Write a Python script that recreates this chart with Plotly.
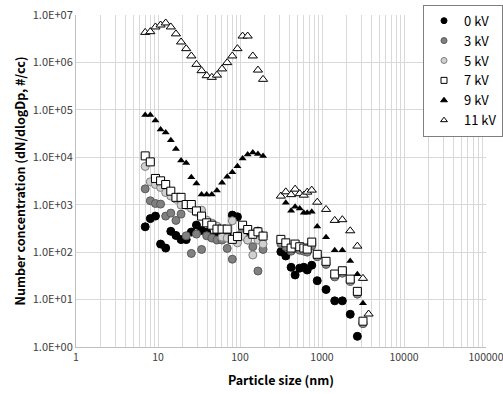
import plotly.graph_objects as go

# SMPS size channels (nm)
smps_x = [6.98, 8.06, 9.31, 10.75, 12.41, 14.33, 16.55, 19.11, 22.07, 25.49, 29.43, 33.99,
          39.25, 45.32, 52.34, 60.44, 69.80, 80.60, 93.08, 107.5, 124.1, 143.3, 165.5, 191.1]
# OPC size channels (nm)
opc_x = [315, 362, 420, 470, 535, 600, 660, 750, 875, 1120, 1430, 1770, 2210, 2700, 3160, 3700]

kv0_smps = [342, 509, 575, 148, 122, 275, 225, 184, 184, 265, 372, 287,
            265, 207, 218, 198, 240, 604, 556, 337, 240, 240, 278, 218]
kv3_smps = [2160, 1210, 1060, 1030, 575, 665, 467, 634, 221, 94, 240, 114,
            221, 198, 180, 180, 120, 71, 221, 278, 180, 130, 40, 114]
kv5_smps = [6400, 3040, 2670, 2310, 1800, 1520, 1310, 980, 975, 836, 698, 769,
            473, 410, 354, 207, 198, 458, 157, 218, 180, 87, 180, 148]
kv7_smps = [10700, 8000, 3580, 3190, 2670, 1930, 1430, 1430, 1010, 1010, 740, 575,
            415, 370, 306, 306, 306, 186, 213, 370, 300, 238, 268, 218]
kv9_smps = [78000, 78000, 59700, 38500, 33300, 23000, 15000, 8600, 7600, 3800, 2800, 1650,
            1650, 1650, 2000, 2900, 3870, 4860, 6500, 9400, 11500, 12600, 11800, 10700]
kv11_smps = [4.3e6, 4.45e6, 5.6e6, 6.15e6, 6.8e6, 5.6e6, 4.0e6, 2.7e6, 1.95e6, 1.37e6, 9.1e5, 6.7e5,
             5.25e5, 4.85e5, 5.4e5, 7.3e5, 9.9e5, 1.37e6, 1.95e6, 3.6e6, 3.6e6, 1.37e6, 6.9e5, 4.4e5]

kv0_opc = [102, 83, 48, 33, 46, 48, 42, 53, 25, 16.3, 9.4, 9.4, 4.9, 1.68, None, None]
kv3_opc = [150, 130, 105, 120, 110, 105, 100, 135, 80, 55, 30, 36, 24, 13, 3.1, None]
kv5_opc = [170, 145, 115, 135, 120, 112, 108, 150, 85, 60, 32, 38, 25, 14, 3.3, None]
kv7_opc = [186, 157, 122, 148, 130, 122, 116, 163, 90, 64, 34.5, 40.5, 27, 14.9, 3.5, None]
kv9_opc = [None, 1100, 743, 903, 836, 675, 675, 708, 349, 207, 109, 110, 65, 34, 8.4, None]
kv11_opc = [1520, 1870, 1630, 2130, 1710, 1590, 1840, 2030, 1130, 796, 467, 483, 282, 134, 28, 4.96]

x_all = smps_x + opc_x

series = [
    ("0 kV", kv0_smps + kv0_opc, dict(symbol="circle", size=8, color="#000000", line=dict(color="#000000", width=1))),
    ("3 kV", kv3_smps + kv3_opc, dict(symbol="circle", size=8, color="#808080", line=dict(color="#595959", width=1))),
    ("5 kV", kv5_smps + kv5_opc, dict(symbol="circle", size=8, color="#d0d0d0", line=dict(color="#7f7f7f", width=1))),
    ("7 kV", kv7_smps + kv7_opc, dict(symbol="square", size=8, color="#ffffff", line=dict(color="#000000", width=1))),
    ("9 kV", kv9_smps + kv9_opc, dict(symbol="triangle-up", size=7, color="#000000", line=dict(color="#000000", width=0))),
    ("11 kV", kv11_smps + kv11_opc, dict(symbol="triangle-up", size=8, color="#ffffff", line=dict(color="#000000", width=1))),
]

fig = go.Figure()
for name, y, mk in series:
    fig.add_trace(go.Scatter(x=x_all, y=y, mode="markers", name=name, marker=mk,
                             showlegend=False, legendgroup=name))
    # small-marker legend entry
    small = dict(mk)
    small["size"] = 6
    small["line"] = dict(mk["line"], width=1)
    fig.add_trace(go.Scatter(x=[None], y=[None], mode="markers", name=name, marker=small,
                             showlegend=True, legendgroup=name))

font_family = "Noto Sans CJK KR, Noto Sans, sans-serif"
fig.update_layout(
    width=503, height=394,
    margin=dict(l=76, r=17, t=15, b=47, autoexpand=False),
    paper_bgcolor="white", plot_bgcolor="white",
    font=dict(family=font_family, color="#404040", size=11),
    showlegend=True,
    legend=dict(xref="container", yref="container", x=1.0, y=0.988,
                xanchor="right", yanchor="top",
                bgcolor="white", bordercolor="#7f7f7f", borderwidth=1,
                font=dict(size=13, color="#000000"), itemsizing="trace",
                tracegroupgap=0, itemwidth=30),
    xaxis=dict(type="log", range=[0, 5], dtick=1, tick0=0,
               tickformat="d", ticklabeloverflow="allow",
               showgrid=True, gridcolor="#d9d9d9", gridwidth=1,
               minor=dict(showgrid=True, gridcolor="#d9d9d9", gridwidth=1, ticks=""),
               showline=True, linecolor="#bfbfbf", linewidth=1,
               ticks="", zeroline=False,
               tickfont=dict(size=10.5, color="#404040"),
               title=dict(text="<b>Particle size (nm)</b>", font=dict(size=12.5, color="#000000"), standoff=13)),
    yaxis=dict(type="log", range=[0, 7],
               tickvals=[1, 10, 100, 1000, 1e4, 1e5, 1e6, 1e7],
               ticktext=["1.0E+00", "1.0E+01", "1.0E+02", "1.0E+03", "1.0E+04", "1.0E+05", "1.0E+06", "1.0E+07"],
               showgrid=True, gridcolor="#d9d9d9", gridwidth=1,
               showline=True, linecolor="#bfbfbf", linewidth=1,
               ticks="", zeroline=False,
               tickfont=dict(size=11, color="#404040"),
               title=dict(text="<b>Number concentration (dN/dlogDp, #/cc)</b>", font=dict(size=12.5, color="#000000"), standoff=4)),
)

fig.write_html("out.html")
